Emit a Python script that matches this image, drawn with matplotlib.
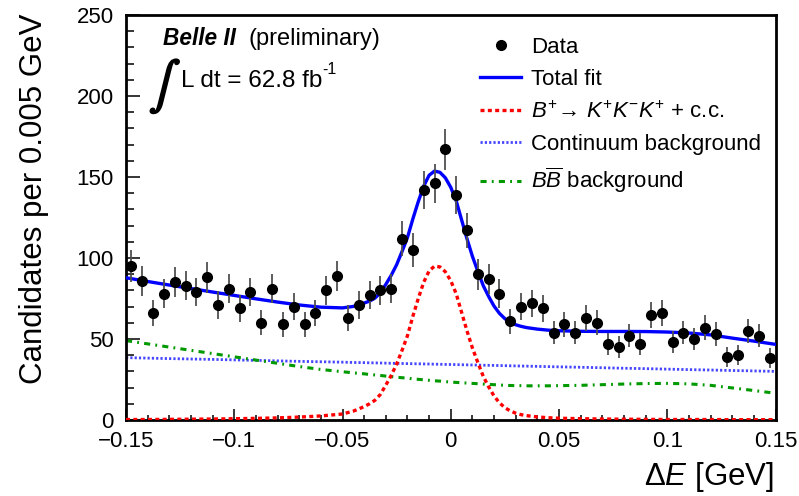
import numpy as np
import matplotlib
matplotlib.use('Agg')
import matplotlib.pyplot as plt
import matplotlib.patheffects as pe
from matplotlib.lines import Line2D
from matplotlib.ticker import MultipleLocator

plt.rcParams['font.family'] = ['Liberation Sans', 'DejaVu Sans']
plt.rcParams['mathtext.fontset'] = 'custom'
plt.rcParams['mathtext.rm'] = 'Liberation Sans'
plt.rcParams['mathtext.it'] = 'Liberation Sans:italic'
plt.rcParams['mathtext.bf'] = 'Liberation Sans:bold'

# ---------------- data ----------------
bin_width = 0.005
x_min, x_max = -0.15, 0.15
y_min, y_max = 0, 250

counts = [95, 86, 66, 78, 85, 83, 79, 88, 71, 81,
          69, 79, 60, 81, 59, 70, 59, 66, 80, 89,
          63, 71, 77, 80, 81, 112, 105, 142, 146, 167,
          139, 117, 90, 87, 78, 61, 70, 72, 69, 54,
          59, 54, 63, 60, 47, 45, 52, 47, 65, 66,
          48, 54, 50, 57, 53, 39, 40, 55, 52, 38]

fit_x = [-0.15, -0.14, -0.13, -0.12, -0.11, -0.10, -0.09, -0.08, -0.07, -0.06, -0.05,
         -0.045, -0.0425, -0.04, -0.0375, -0.035, -0.0325, -0.03, -0.0275, -0.025, -0.0225,
         -0.02, -0.0175, -0.015, -0.0125, -0.01, -0.0075, -0.005, -0.0025, 0.0, 0.0025,
         0.005, 0.0075, 0.01, 0.0125, 0.015, 0.0175, 0.02, 0.0225, 0.025, 0.0275,
         0.03, 0.0325, 0.035,
         0.04, 0.045, 0.05,
         0.06, 0.07, 0.08, 0.09, 0.10, 0.11, 0.12, 0.13, 0.14, 0.15]

signal = [0.3, 0.3, 0.4, 0.5, 0.6, 0.8, 1.0, 1.3, 1.8, 2.5, 3.7,
          5.5, 6.8, 8.3, 10.0, 12.2, 15.8, 21.5, 27.5, 34.5, 43,
          52, 64, 75, 85, 92, 95, 94.5, 91.5, 86, 78,
          66.5, 55, 44.5, 35.5, 27, 20.5, 14.8, 10.6, 7.6, 5.6,
          4.2, 3.3, 2.7,
          1.9, 1.4, 1.1,
          0.8, 0.6, 0.5, 0.4, 0.3, 0.3, 0.3, 0.2, 0.2, 0.2]

continuum = [38.5, 38.2, 37.9, 37.65, 37.4, 37.1, 36.8, 36.5, 36.2, 35.95, 35.7,
             35.5, 35.45, 35.4, 35.3, 35.25, 35.2, 35.1, 35.0, 34.95, 34.9,
             34.8, 34.75, 34.7, 34.6, 34.55, 34.45, 34.4, 34.3, 34.25, 34.2,
             34.1, 34.05, 33.95, 33.9, 33.8, 33.75, 33.7, 33.6, 33.55, 33.45,
             33.4, 33.3, 33.25,
             33.1, 32.95, 32.8,
             32.55, 32.25, 31.95, 31.7, 31.4, 31.1, 30.85, 30.55, 30.3, 30.0]

bbbar = [49, 47, 45, 43, 41, 39, 37, 35, 33, 31.2, 29.8,
         29.1, 28.8, 28.5, 28.1, 27.8, 27.5, 27.1, 26.8, 26.4, 26.1,
         25.8, 25.4, 25.1, 24.8, 24.5, 24.2, 24.0, 23.7, 23.4, 23.2,
         23.0, 22.8, 22.6, 22.4, 22.2, 22.0, 21.8, 21.6, 21.4, 21.3,
         21.2, 21.2, 21.1,
         21.1, 21.1, 21.2,
         21.4, 21.8, 22.2, 22.5, 22.6, 22.3, 21.4, 19.8, 18.2, 16.5]

xtick_values = [-0.15, -0.1, -0.05, 0, 0.05, 0.1, 0.15]
xtick_labels = ['\u22120.15', '\u22120.1', '\u22120.05', '0', '0.05', '0.1', '0.15']
ytick_values = [0, 50, 100, 150, 200, 250]
ytick_labels = ['0', '50', '100', '150', '200', '250']

legend_labels = ['Data', 'Total fit',
                 r'$B^{+}\!\rightarrow\, K^{+}K^{-}K^{+}$ + c.c.',
                 'Continuum background',
                 r'$B\overline{B}$ background']

# ---------------- styles ----------------
C_TOT = '#0000ff'
C_SIG = '#ff0000'
C_CONT = '#4646ff'
C_BB = '#009900'
ST_TOT = dict(color=C_TOT, lw=2.4)
ST_SIG = dict(color=C_SIG, lw=2.4, dashes=(1.2, 1.0))
ST_CONT = dict(color=C_CONT, lw=2.0, dashes=(0.8, 0.75))
ST_BB = dict(color=C_BB, lw=2.2, dashes=(2.0, 1.7, 0.6, 1.7))

W, H = 799, 496
fig = plt.figure(figsize=(W / 100, H / 100), dpi=100)
ax = fig.add_axes([126 / W, 1 - 420 / H, (775.5 - 126) / W, (420 - 15) / H])

centers = x_min + bin_width * (np.arange(len(counts)) + 0.5)
cnt = np.array(counts, dtype=float)
err = np.sqrt(cnt)
total = np.array(signal) + np.array(continuum) + np.array(bbbar)

ax.plot(fit_x, continuum, zorder=2, **ST_CONT)
ax.plot(fit_x, bbbar, zorder=2, **ST_BB)
ax.plot(fit_x, signal, zorder=3, **ST_SIG)
ax.plot(fit_x, total, zorder=4, **ST_TOT)
ax.errorbar(centers, cnt, yerr=err, fmt='o', color='black', ms=7,
            ecolor='#505050', elinewidth=1.3, capsize=0, zorder=5)

ax.set_xlim(x_min, x_max)
ax.set_ylim(y_min, y_max)
ax.set_xticks(xtick_values)
ax.set_xticklabels(xtick_labels)
ax.set_yticks(ytick_values)
ax.set_yticklabels(ytick_labels)
ax.xaxis.set_minor_locator(MultipleLocator(0.01))
ax.yaxis.set_minor_locator(MultipleLocator(10))
ax.tick_params(which='both', direction='in', top=False, right=False, width=1.1)
ax.tick_params(axis='x', which='major', length=8, labelsize=16, pad=8)
ax.tick_params(axis='x', which='minor', length=3.8)
ax.tick_params(axis='y', which='major', length=10, labelsize=16, pad=9)
ax.tick_params(axis='y', which='minor', length=5.5)
for s in ax.spines.values():
    s.set_linewidth(2)

handles = [Line2D([], [], marker='o', ls='none', color='k', ms=7),
           Line2D([], [], **ST_TOT),
           Line2D([], [], **ST_SIG),
           Line2D([], [], **ST_CONT),
           Line2D([], [], **ST_BB)]
ax.legend(handles, legend_labels, loc='upper left',
          bbox_to_anchor=(480 / W, 1 - 37 / H), bbox_transform=fig.transFigure,
          frameon=False, fontsize=16, handlelength=1.85, handletextpad=0.45,
          labelspacing=0.5, borderpad=0, borderaxespad=0)

fig.text(163 / W, 1 - 45.3 / H, 'Belle II', fontsize=16.3, fontweight='bold',
         fontstyle='italic', ha='left', va='baseline')
fig.text(249 / W, 1 - 45.3 / H, '(preliminary)', fontsize=17, ha='left', va='baseline')
fig.text(165 / W, 1 - 87 / H, r'$\int$', fontsize=34, math_fontfamily='stix',
         ha='center', va='center',
         path_effects=[pe.withStroke(linewidth=1.3, foreground='black')])
fig.text(181 / W, 1 - 87 / H, 'L dt = 62.8 fb', fontsize=17.5,
         ha='left', va='baseline')
fig.text(322 / W, 1 - 70 / H, '-1', fontsize=11.5, ha='left', va='center')

fig.text(42 / W, 1 - 13 / H, 'Candidates per 0.005 GeV', rotation=90,
         rotation_mode='anchor', ha='right', va='baseline', fontsize=22.5)
fig.text(774 / W, 1 - 485 / H, r'$\Delta E$ [GeV]', ha='right', va='baseline',
         fontsize=22.5)

fig.savefig('out.png', dpi=100)
